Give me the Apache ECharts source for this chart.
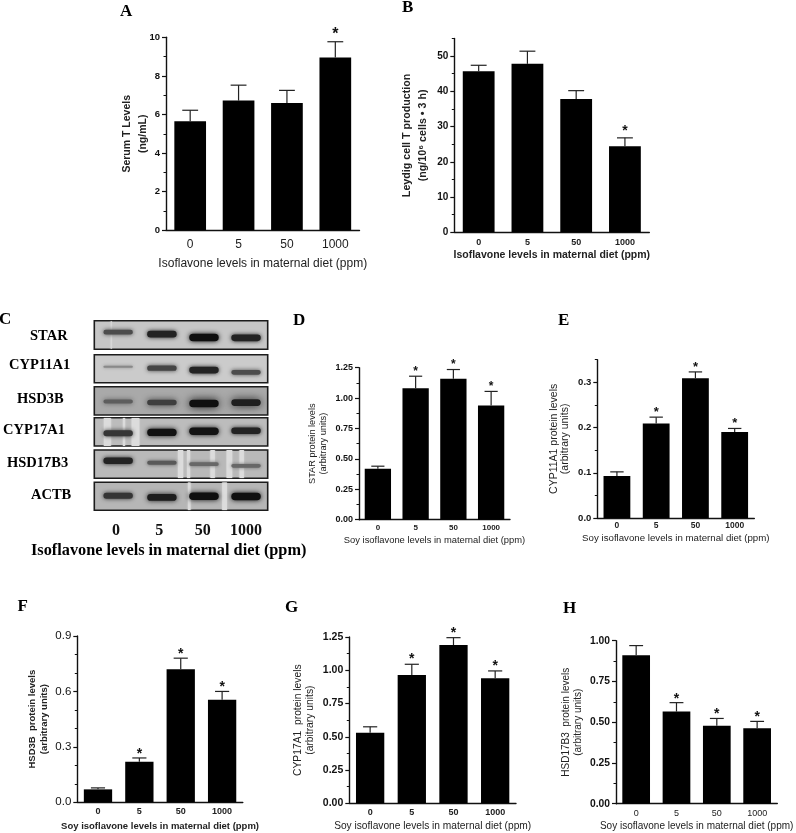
<!DOCTYPE html>
<html><head><meta charset="utf-8">
<style>html,body{margin:0;padding:0;background:#fff}#c{width:796px;height:833px;filter:blur(0.35px)}</style>
<script src="https://cdn.jsdelivr.net/npm/echarts@6/dist/echarts.min.js"></script>
</head><body><div id="c"></div>
<script>
const doses = ['0','5','50','1000'];
const serumT = [5.65,6.72,6.6,8.95];      const serumTTop = [6.22,7.52,7.25,9.77];      const serumTSig=[0,0,0,1];
const leydigT = [45.7,47.8,37.8,24.4];    const leydigTTop = [47.4,51.4,40.2,26.8];     const leydigTSig=[0,0,0,1];
const star = [0.42,1.08,1.16,0.94];       const starTop = [0.44,1.18,1.235,1.055];      const starSig=[0,1,1,1];
const cyp11a1 = [0.093,0.209,0.309,0.19]; const cyp11a1Top = [0.102,0.223,0.323,0.198]; const cyp11a1Sig=[0,1,1,1];
const hsd3b = [0.07,0.22,0.72,0.555];     const hsd3bTop = [0.078,0.24,0.78,0.6];       const hsd3bSig=[0,1,1,1];
const cyp17a1 = [0.53,0.965,1.19,0.94];   const cyp17a1Top = [0.575,1.045,1.245,0.995]; const cyp17a1Sig=[0,1,1,1];
const hsd17b3 = [0.91,0.565,0.478,0.463]; const hsd17b3Top = [0.97,0.62,0.523,0.505];   const hsd17b3Sig=[0,1,1,1];

const blotNames = ['STAR','CYP11A1','HSD3B','CYP17A1','HSD17B3','ACTB'];
const blotLanes = [0.05,1.06,2.03,3.0];
const blotDensity = [[.55,.85,1,.85],[.1,.6,.85,.55],[.42,.65,1,.88],[.72,.98,.98,.85],[.85,.45,.35,.35],[.72,.9,1,1]];
const blotBandPos = [[.6,.53,.41,.4],[.57,.52,.45,.37],[.48,.44,.41,.44],[.45,.48,.52,.54],[.62,.55,.5,.44],[.52,.46,.5,.49]];
const blotStreaks = [[[-.12,-.1]],[],[],[[-.28,-.12],[.16,.21],[.36,.54]],[[1.43,1.55],[1.64,1.71],[2.18,2.28],[2.55,2.68],[2.85,2.95]],[[1.66,1.72],[2.45,2.56]]];

const panels = [
 {v:serumT,t:serumTTop,s:serumTSig,max:10,ticks:[0,2,4,6,8,10],minor:[1,3,5,7,9],d:0,name:'Serum T Levels\n(ng/mL)',x:'Isoflavone levels in maternal diet (ppm)',
  box:[166,37.3,193.5,193],bw:31.7,yf:[9.5,'bold'],xf:[12,'normal'],nf:[12,'normal'],yn:[10.5,'bold',16],gap:15,xgap:27,sf:16,sd:8.5,xm:8},
 {v:leydigT,t:leydigTTop,s:leydigTSig,max:55,ticks:[0,10,20,30,40,50],minor:[5,15,25,35,45,55],d:0,name:'Leydig cell T production\n(ng/10⁶ cells • 3 h)',x:'Isoflavone levels in maternal diet (ppm)',
  box:[454.3,38.5,195,193.8],bw:31.8,yf:[10,'bold'],xf:[9,'bold'],nf:[10.5,'bold'],yn:[10.7,'bold',16],gap:23,xgap:17,sf:14,sd:8,xm:6},
 {v:star,t:starTop,s:starSig,max:1.25,ticks:[0,.25,.5,.75,1,1.25],minor:[.125,.375,.625,.875,1.125],d:2,name:'STAR protein levels\n(arbitrary units)',x:'Soy isoflavone levels in maternal diet (ppm)',
  box:[359,367.7,151,152],bw:26.3,yf:[9,'bold'],xf:[8,'bold'],nf:[9.4,'normal'],yn:[9.2,'normal',11],gap:30,xgap:16,sf:12,sd:5.3,xm:4},
 {v:cyp11a1,t:cyp11a1Top,s:cyp11a1Sig,max:.35,ticks:[0,.1,.2,.3],minor:[.05,.15,.25,.35],d:1,name:'CYP11A1 protein levels\n(arbitrary units)',x:'Soy isoflavone levels in maternal diet (ppm)',
  box:[597.3,359.7,157,158.3],bw:26.8,yf:[9.5,'bold'],xf:[8.5,'bold'],nf:[9.7,'normal'],yn:[10.5,'normal',11.5],gap:26,xgap:15,sf:13,sd:6,xm:3},
 {v:hsd3b,t:hsd3bTop,s:hsd3bSig,max:.9,ticks:[0,.3,.6,.9],minor:[.1,.2,.4,.5,.7,.8],d:1,name:'HSD3B  protein levels\n(arbitrary units)',x:'Soy isoflavone levels in maternal diet (ppm)',
  box:[77.3,636,165.5,166.3],bw:28.3,yf:[11.5,'normal'],xf:[9,'bold'],nf:[9.5,'bold'],yn:[9.5,'bold',12],gap:27,xgap:19,sf:14,sd:5,xm:5},
 {v:cyp17a1,t:cyp17a1Top,s:cyp17a1Sig,max:1.25,ticks:[0,.25,.5,.75,1,1.25],minor:[.125,.375,.625,.875,1.125],d:2,name:'CYP17A1  protein levels\n(arbitrary units)',x:'Soy isoflavone levels in maternal diet (ppm)',
  box:[349.3,637,166.7,166.3],bw:28.3,yf:[10.5,'bold'],xf:[9,'bold'],nf:[10.2,'normal'],yn:[10.3,'normal',12],gap:33,xgap:18,sf:14,sd:6,xm:5},
 {v:hsd17b3,t:hsd17b3Top,s:hsd17b3Sig,max:1,ticks:[0,.25,.5,.75,1],minor:[.125,.375,.625,.875],d:2,name:'HSD17B3  protein levels\n(arbitrary units)',x:'Soy isoflavone levels in maternal diet (ppm)',
  box:[616,640.7,161.3,163],bw:27.7,yf:[10.3,'bold'],xf:[9,'normal'],nf:[10,'normal'],yn:[10,'normal',12],gap:32,xgap:18,sf:14,sd:5,xm:5}
];
const blotBoxes = [[94.3,320.7,173.4,28.6],[94.3,354.7,173.4,28],[94.3,386.7,173.4,28.3],[94.3,417.7,173.4,28.3],[94.3,450,173.4,28.3],[94.3,482.3,173.4,28]];
const blotBg = ['#c6c6c6','#cbcbcb','#a9a9a9','#bcbcbc','#b9b9b9','#b6b6b6'];
const serif='"Liberation Serif"', sans='"Liberation Sans"';
const letters=[['A',120,3],['B',402,-1],['C',-1,311],['D',293,312],['E',558,312],['F',17.5,598],['G',285,599],['H',563,600]];
const blotLabels=[['STAR',30,329],['CYP11A1',9,358],['HSD3B',17,391.5],['CYP17A1',3,423],['HSD17B3',7,456],['ACTB',31,488]];

const grid=[],xAxis=[],yAxis=[],series=[];
panels.forEach((p,i)=>{
  grid.push({left:p.box[0],top:p.box[1],width:p.box[2],height:p.box[3],show:false});
  xAxis.push({type:'category',gridIndex:i,data:doses,name:p.x,nameLocation:'middle',nameGap:p.xgap,nameMoveOverlap:false,
    nameTextStyle:{fontFamily:sans,fontSize:p.nf[0],fontWeight:p.nf[1],color:'#222'},
    axisLine:{lineStyle:{color:'#111',width:1.4}},axisTick:{show:false},
    axisLabel:{margin:p.xm,fontFamily:sans,fontSize:p.xf[0],fontWeight:p.xf[1],color:'#222'}});
  yAxis.push({type:'value',gridIndex:i,position:'left',min:0,max:p.max,name:p.name,nameLocation:'middle',nameGap:p.gap,nameMoveOverlap:false,
    nameTextStyle:{fontFamily:sans,fontSize:p.yn[0],fontWeight:p.yn[1],color:'#222',lineHeight:p.yn[2]},
    splitLine:{show:false},axisLine:{show:true,onZero:false,lineStyle:{color:'#111',width:1.4}},
    axisTick:{show:true,length:4,customValues:p.ticks,lineStyle:{color:'#111',width:1.2}},
    axisLabel:{show:true,margin:6,customValues:p.ticks,formatter:v=>v.toFixed(p.d),fontFamily:sans,fontSize:p.yf[0],fontWeight:p.yf[1],color:'#111'}});
  const minorIdx=yAxis.length;
  yAxis.push({type:'value',gridIndex:i,position:'left',min:0,max:p.max,splitLine:{show:false},axisLine:{show:false,onZero:false},axisLabel:{show:false},
    axisTick:{show:true,length:2.5,customValues:p.minor,lineStyle:{color:'#111',width:1}}});
  p.yIdx=minorIdx-1;
  series.push({type:'bar',xAxisIndex:i,yAxisIndex:p.yIdx,data:p.v,barWidth:p.bw,itemStyle:{color:'#000'},z:2,silent:true});
  series.push({type:'custom',xAxisIndex:i,yAxisIndex:p.yIdx,z:3,silent:true,clip:false,
    encode:{x:0,y:[1,2]},
    data:p.v.map((v,k)=>[k,v,p.t[k],p.s[k]]),
    renderItem:(ctx,api)=>{
      const a=api.coord([api.value(0),api.value(1)]), b=api.coord([api.value(0),api.value(2)]);
      const cap=p.bw/2;
      const ch=[
        {type:'line',shape:{x1:a[0],y1:a[1],x2:b[0],y2:b[1]},style:{stroke:'#222',lineWidth:1.2}},
        {type:'line',shape:{x1:a[0]-cap/2,y1:b[1],x2:a[0]+cap/2,y2:b[1]},style:{stroke:'#222',lineWidth:1.2}}];
      if(api.value(3)) ch.push({type:'text',style:{text:'*',x:a[0],y:b[1]-p.sd+p.sf*0.08,align:'center',verticalAlign:'middle',
        fontFamily:sans,fontSize:p.sf,fontWeight:'bold',fill:'#111'}});
      return {type:'group',children:ch};
    }});
});
const shade=(a)=>{const g=Math.round(150-135*a);return `rgb(${g},${g},${g})`;};
blotNames.forEach((n,b)=>{
  const bx=blotBoxes[b], gi=grid.length;
  grid.push({left:bx[0],top:bx[1],width:bx[2],height:bx[3],show:true,backgroundColor:blotBg[b],borderColor:'#1c1c1c',borderWidth:1.6,z:1});
  const last=b===blotNames.length-1;
  xAxis.push({type:'value',gridIndex:gi,min:-.5,max:3.5,splitLine:{show:false},axisLine:{show:false},axisTick:{show:false},
    axisLabel:last?{show:true,margin:13,customValues:[0,1,2,3],formatter:v=>doses[v],fontFamily:serif,fontWeight:'bold',fontSize:16,color:'#111'}:{show:false}});
  yAxis.push({type:'value',gridIndex:gi,min:0,max:1,splitLine:{show:false},axisLine:{show:false},axisTick:{show:false},axisLabel:{show:false}});
  const yi=yAxis.length-1;
  series.push({type:'custom',xAxisIndex:gi,yAxisIndex:yi,z:2,silent:true,clip:true,encode:{x:[0,1]},
    data:blotStreaks[b],
    renderItem:(ctx,api)=>{
      const l=api.coord([api.value(0),1]), r=api.coord([api.value(1),0]);
      return {type:'rect',shape:{x:l[0],y:l[1],width:r[0]-l[0],height:r[1]-l[1]},style:{fill:'#dcdcdc',shadowColor:'#dcdcdc',shadowBlur:2}};
    }});
  series.push({type:'custom',xAxisIndex:gi,yAxisIndex:yi,z:3,silent:true,clip:true,encode:{x:0,y:1},
    data:blotLanes.map((x,k)=>[x,blotBandPos[b][k],blotDensity[b][k]]),
    renderItem:(ctx,api)=>{
      const c=api.coord([api.value(0),api.value(1)]), d=api.value(2);
      const w=api.size([0.68,0])[0], h=1.5+6*d;
      return {type:'rect',shape:{x:c[0]-w/2,y:c[1]-h/2,width:w,height:h,r:h/2},
        style:{fill:shade(d),shadowColor:shade(d),shadowBlur:3+(b===2?6:2)*d}};
    }});
});
const title=[];
letters.forEach(l=>title.push({text:l[0],left:l[1],top:l[2],textStyle:{fontFamily:serif,fontWeight:'bold',fontSize:17,color:'#000'},padding:0}));
blotLabels.forEach(l=>title.push({text:l[0],left:l[1],top:l[2],textStyle:{fontFamily:serif,fontWeight:'bold',fontSize:14.5,color:'#000'},padding:0}));
title.push({text:'Isoflavone levels in maternal diet (ppm)',left:31,top:543,padding:0,textStyle:{fontFamily:serif,fontWeight:'bold',fontSize:16.3,color:'#000'}});
const chart=echarts.init(document.getElementById('c'),null,{renderer:'canvas',width:796,height:833});
chart.setOption({animation:false,backgroundColor:'#fff',title,grid,xAxis,yAxis,series});
</script></body></html>
